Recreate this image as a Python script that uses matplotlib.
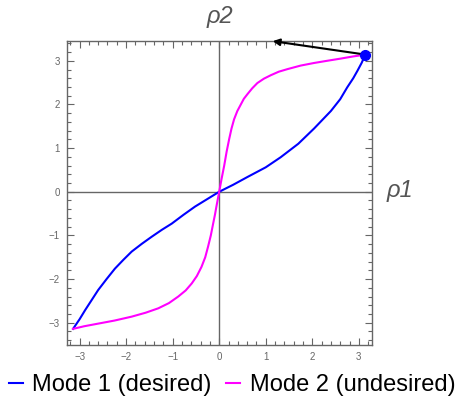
import numpy as np
import matplotlib
matplotlib.use("Agg")
import matplotlib.pyplot as plt
from matplotlib.ticker import MultipleLocator

plt.rcParams['font.family'] = ['Liberation Sans', 'DejaVu Sans']

mode1_x = [-3.14, -3.0, -2.88, -2.74, -2.60, -2.42, -2.24, -2.06, -1.88, -1.66,
           -1.45, -1.23, -1.02, -0.77, -0.52, -0.26, 0.0,
           0.3, 0.61, 1.0, 1.32, 1.7, 2.04, 2.40, 2.6, 2.75, 2.88, 2.97, 3.06, 3.14]
mode1_y = [-3.14, -2.92, -2.71, -2.48, -2.25, -2.0, -1.76, -1.56, -1.37, -1.19,
           -1.03, -0.87, -0.73, -0.53, -0.34, -0.17, 0.0,
           0.16, 0.34, 0.56, 0.79, 1.1, 1.45, 1.85, 2.12, 2.39, 2.6, 2.77, 2.95, 3.14]

# Mode 2 (magenta)
mode2_x = [-3.14, -2.9, -2.60, -2.25, -1.88, -1.58, -1.31, -1.08, -0.88, -0.72,
           -0.59, -0.48, -0.38, -0.30, -0.24, -0.18, -0.13, -0.09, -0.06, -0.03, 0.0,
           0.05, 0.107, 0.16, 0.215, 0.265, 0.32, 0.39, 0.465, 0.53, 0.61, 0.71,
           0.82, 0.96, 1.11, 1.28, 1.47, 1.75, 2.04, 2.32, 2.61, 2.88, 3.14]
mode2_y = [-3.14, -3.08, -3.02, -2.95, -2.86, -2.77, -2.67, -2.55, -2.40, -2.26,
           -2.10, -1.93, -1.72, -1.50, -1.26, -1.0, -0.73, -0.52, -0.34, -0.17, 0.0,
           0.29, 0.595, 0.92, 1.21, 1.45, 1.66, 1.85, 2.0, 2.13, 2.24, 2.37,
           2.49, 2.59, 2.67, 2.75, 2.81, 2.89, 2.95, 3.0, 3.05, 3.10, 3.14]

point = (np.pi, np.pi)
arrow_tip = (1.15, 3.45)

labels = ["Mode 1 (desired)", "Mode 2 (undesired)"]
colors = ["#0000ff", "#ff00ff"]
gray = "#666666"

fig = plt.figure(figsize=(4.64, 4.07), dpi=100)
ax = fig.add_axes([0.1444, 0.1523, 0.657, 0.7477])

ax.axhline(0, color=gray, lw=1)
ax.axvline(0, color=gray, lw=1)

l1, = ax.plot(mode1_x, mode1_y, color=colors[0], lw=1.5, label=labels[0])
l2, = ax.plot(mode2_x, mode2_y, color=colors[1], lw=1.5, label=labels[1])

ax.plot(*point, 'o', color=colors[0], ms=7, zorder=5, clip_on=False)
ax.annotate("", xy=arrow_tip, xytext=point,
            arrowprops=dict(arrowstyle="-|>", color="black", lw=1.5,
                            mutation_scale=10, shrinkA=0, shrinkB=0),
            annotation_clip=False, zorder=4)

ax.set_xlim(-3.27, 3.28)
ax.set_ylim(-3.51, 3.46)
ax.xaxis.set_major_locator(MultipleLocator(1))
ax.yaxis.set_major_locator(MultipleLocator(1))
ax.xaxis.set_minor_locator(MultipleLocator(0.2))
ax.yaxis.set_minor_locator(MultipleLocator(0.2))
ax.tick_params(which='both', direction='in', top=True, right=True,
               color=gray, labelcolor=gray, labelsize=7, width=0.8)
ax.tick_params(which='major', length=5, pad=5)
ax.tick_params(which='minor', length=3)
for s in ax.spines.values():
    s.set_color(gray)
    s.set_linewidth(1)

fig.text(220 / 464, 1 - 17 / 407, "ρ2", color="#555555", fontsize=17,
         ha='center', va='center', style='italic')
fig.text(400 / 464, 1 - 190 / 407, "ρ1", color="#555555", fontsize=17,
         ha='center', va='center', style='italic')

fig.legend(handles=[l1, l2], loc='center', bbox_to_anchor=(0.5, 1 - 385 / 407),
           ncol=2, frameon=False, fontsize=17, handlelength=0.6,
           handletextpad=0.4, columnspacing=0.6, borderaxespad=0)

fig.savefig("out.png", dpi=100)
